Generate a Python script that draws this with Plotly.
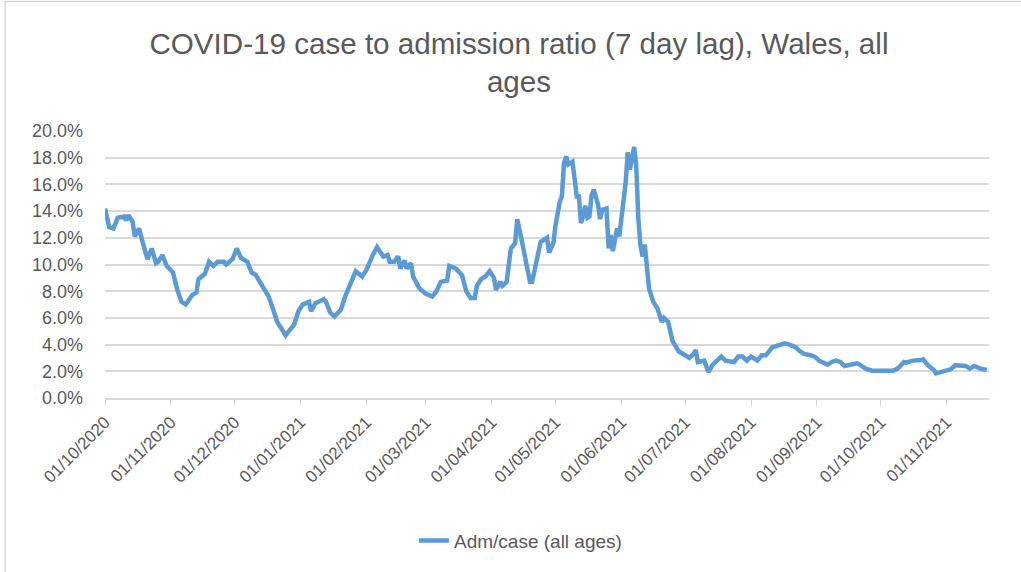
import pandas as pd
import plotly.graph_objects as go

start_date = "2020-10-01"
day_offsets = [
    0, 2, 4, 6, 9, 10, 11, 13, 14, 16, 18, 20, 22, 24, 25, 27, 29, 32, 34, 36,
    38, 41, 43, 44, 47, 49, 51, 53, 56, 57, 60, 62, 64, 67, 69, 71, 74, 77, 79, 81,
    83, 85, 87, 89, 91, 93, 96, 97, 99, 103, 104, 106, 108, 111, 113, 115, 118, 121, 123, 126,
    128, 131, 133, 134, 136, 138, 139, 141, 142, 144, 145, 148, 151, 154, 156, 158, 161, 162, 165, 168,
    170, 172, 174, 175, 177, 179, 181, 183, 184, 186, 187, 189, 191, 193, 194, 196, 198, 200, 201, 203,
    205, 208, 209, 211, 212, 214, 215, 216, 217, 218, 220, 221, 222, 223, 224, 225, 226, 227, 228, 229,
    230, 232, 233, 234, 236, 237, 238, 239, 241, 242, 244, 245, 246, 247, 249, 250, 251, 252, 253, 254,
    256, 258, 260, 262, 263, 265, 267, 270, 273, 275, 277, 278, 279, 282, 284, 286, 290, 292, 296, 298,
    300, 302, 304, 307, 309, 311, 314, 318, 320, 322, 325, 327, 329, 332, 334, 336, 340, 342, 344, 346,
    348, 351, 354, 356, 358, 361, 363, 366, 369, 371, 373, 376, 377, 380, 384, 385, 387, 390, 391, 394,
    398, 400, 402, 405, 407, 409, 412, 415,
]

# Admissions per case, percent
adm_case_pct = [
    14.2, 12.8, 12.7, 13.5, 13.6, 13.3, 13.7, 13.2, 12.1, 12.7, 11.5, 10.4, 11.2, 10.1, 10.2, 10.7, 9.9, 9.4, 8.1, 7.2,
    7.0, 7.7, 7.9, 8.9, 9.3, 10.2, 9.9, 10.2, 10.2, 10.0, 10.4, 11.2, 10.5, 10.2, 9.4, 9.2, 8.4, 7.6, 6.7, 5.7,
    5.2, 4.7, 5.1, 5.5, 6.5, 7.0, 7.2, 6.5, 7.1, 7.4, 7.2, 6.4, 6.1, 6.6, 7.6, 8.4, 9.5, 9.1, 9.6, 10.7,
    11.3, 10.6, 10.7, 10.2, 10.2, 10.6, 9.7, 10.3, 9.7, 10.1, 9.1, 8.2, 7.8, 7.6, 8.0, 8.7, 8.8, 9.9, 9.7, 9.2,
    8.0, 7.5, 7.5, 8.4, 8.9, 9.1, 9.5, 9.0, 8.1, 8.7, 8.4, 8.7, 11.2, 11.6, 13.4, 11.9, 10.4, 8.7, 8.7, 10.4,
    11.7, 12.0, 10.9, 11.6, 12.9, 14.7, 15.1, 17.6, 18.1, 17.5, 17.7, 16.4, 15.1, 15.1, 13.1, 13.6, 14.4, 13.5, 13.6, 15.2,
    15.6, 14.5, 13.4, 14.1, 14.2, 11.2, 12.2, 11.0, 12.7, 12.1, 15.1, 16.1, 18.4, 17.1, 18.8, 17.4, 13.4, 11.4, 10.6, 11.5,
    8.2, 7.2, 6.7, 5.7, 6.0, 5.7, 4.3, 3.5, 3.2, 3.0, 3.3, 3.6, 2.7, 2.8, 1.95, 2.5, 3.1, 2.8, 2.7, 3.1,
    3.1, 2.8, 3.1, 2.8, 3.2, 3.2, 3.8, 4.0, 4.1, 4.0, 3.8, 3.5, 3.3, 3.2, 3.1, 2.8, 2.5, 2.7, 2.8, 2.7,
    2.4, 2.5, 2.6, 2.4, 2.2, 2.05, 2.05, 2.05, 2.05, 2.05, 2.2, 2.7, 2.65, 2.8, 2.85, 2.9, 2.5, 2.1, 1.85, 1.95,
    2.15, 2.45, 2.45, 2.4, 2.2, 2.4, 2.2, 2.1,
]

dates = pd.Timestamp(start_date) + pd.to_timedelta(day_offsets, unit="D")
ratio = [v / 100 for v in adm_case_pct]

grey_text = "#595959"
grid_col = "#D9D9D9"
font_fam = "Liberation Sans, Arial, sans-serif"

fig = go.Figure()
fig.add_trace(go.Scatter(
    x=dates, y=ratio, mode="lines", name="Adm/case (all ages)",
    line=dict(color="#5B9BD5", width=4.5),
))

fig.update_layout(
    width=1021, height=572,
    margin=dict(l=105, r=32, t=131, b=174),
    paper_bgcolor="white", plot_bgcolor="white",
    font=dict(family=font_fam, color=grey_text, size=18),
    title=dict(
        text="COVID-19 case to admission ratio (7 day lag), Wales, all<br>ages",
        x=0.5083, xanchor="center", y=0.906, yanchor="middle",
        font=dict(size=29.6, color=grey_text),
    ),
    showlegend=True,
    legend=dict(orientation="h", x=0.47, xanchor="center", y=-0.534, yanchor="middle",
                font=dict(size=19, color=grey_text)),
    xaxis=dict(
        range=["2020-10-01", "2021-11-21"],
        tick0="2020-10-01", dtick="M1", tickformat="%d/%m/%Y",
        tickangle=-45, ticks="outside", ticklen=6, tickcolor=grid_col,
        showgrid=False, showline=True, linecolor=grid_col, linewidth=1.5,
        tickfont=dict(size=17, color=grey_text),
    ),
    yaxis=dict(
        range=[0, 0.2], dtick=0.02, tickformat=".1%",
        showgrid=True, gridcolor=grid_col, gridwidth=1.5,
        zeroline=False, ticks="", ticklabelstandoff=21,
        tickfont=dict(size=18, color=grey_text),
    ),
    # chart-area border, only its left and top edges fall inside the picture
    shapes=[dict(
        type="rect", xref="paper", yref="paper",
        x0=-0.113, x1=1.3, y0=-1.0, y1=1.485,
        line=dict(color=grid_col, width=1.5), layer="below",
    )],
)

# drop the default page margin so the figure sits at the window's top-left corner
fig.write_html("out.html", config={"displayModeBar": False},
               post_script="document.body.style.margin='0';")
